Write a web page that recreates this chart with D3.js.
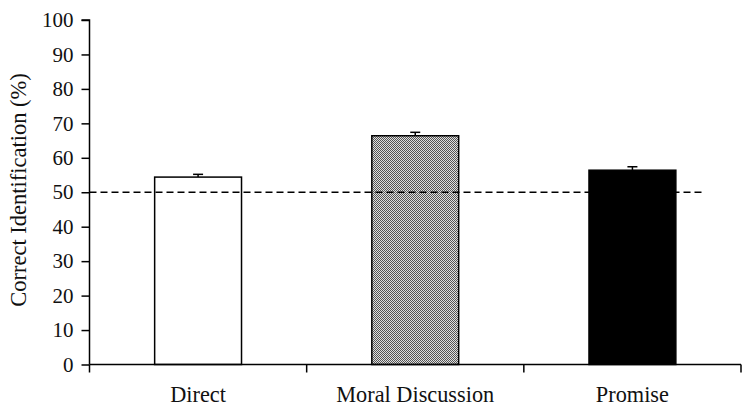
<!DOCTYPE html>
<html><head><meta charset="utf-8">
<script src="https://cdn.jsdelivr.net/npm/d3@7"></script>
<style>body{margin:0;background:#fff}svg{display:block}</style>
</head><body>
<svg id="c" width="750" height="412"></svg>
<script>
const categories = ["Direct", "Moral Discussion", "Promise"];
const values = [54.4, 66.4, 56.4];
const errors = [0.8, 1.0, 1.0];
const yTicks = [0,10,20,30,40,50,60,70,80,90,100];
const chanceLevel = 50;
const yLabel = "Correct Identification (%)";

(function(){
const svg = d3.select("#c");
const font = "'Liberation Serif','Times New Roman',serif";
const mLeft = 89.5, mRight = 741, mTop = 20, mBottom = 364.5;

const defs = svg.append("defs");
const pat = defs.append("pattern").attr("id","dots").attr("width",2).attr("height",2).attr("patternUnits","userSpaceOnUse");
pat.append("rect").attr("width",2).attr("height",2).attr("fill","#e0e0e0");
pat.append("rect").attr("width",1).attr("height",1).attr("fill","#555");
pat.append("rect").attr("x",1).attr("y",1).attr("width",1).attr("height",1).attr("fill","#555");

const x = d3.scaleBand().domain(categories).range([mLeft, mRight]).paddingInner(0).paddingOuter(0);
const y = d3.scaleLinear().domain([0,100]).range([mBottom, mTop]);
const fills = ["#fff", "url(#dots)", "#000"];
const barW = x.bandwidth() * 0.4;

svg.selectAll("rect.bar").data(categories).enter().append("rect")
  .attr("class","bar")
  .attr("x", d => x(d) + x.bandwidth()/2 - barW/2)
  .attr("y", (d,i) => y(values[i]))
  .attr("width", barW)
  .attr("height", (d,i) => y(0) - y(values[i]))
  .attr("fill", (d,i) => fills[i])
  .attr("stroke", "#000").attr("stroke-width", 1.5);

categories.forEach((c,i) => {
  const cx = x(c) + x.bandwidth()/2;
  svg.append("line").attr("x1",cx).attr("x2",cx).attr("y1",y(values[i])).attr("y2",y(values[i]+errors[i]))
    .attr("stroke","#000").attr("stroke-width",1.5);
  svg.append("line").attr("x1",cx-5).attr("x2",cx+5).attr("y1",y(values[i]+errors[i])).attr("y2",y(values[i]+errors[i]))
    .attr("stroke","#000").attr("stroke-width",1.5);
});

svg.append("line").attr("x1", mLeft).attr("x2", 704).attr("y1", y(chanceLevel)).attr("y2", y(chanceLevel))
  .attr("stroke","#000").attr("stroke-width",1.3).attr("stroke-dasharray","7,4");

const ya = svg.append("g").attr("transform",`translate(${mLeft},0)`)
  .call(d3.axisLeft(y).tickValues(yTicks).tickSize(8).tickPadding(8));
ya.attr("font-family", font).attr("font-size", 21);
ya.select(".domain").attr("stroke","#000").attr("stroke-width",1.5).attr("d",`M-8,${y(100)}H0V${y(0)}`);
ya.selectAll(".tick line").attr("stroke","#000").attr("stroke-width",1.5);
ya.selectAll(".tick text").attr("font-family",font).attr("font-size",21).attr("fill","#111");

const xa = svg.append("g").attr("transform",`translate(0,${mBottom})`);
xa.append("line").attr("x1",mLeft).attr("x2",mRight).attr("y1",0).attr("y2",0).attr("stroke","#000").attr("stroke-width",1.5);
const bounds = categories.map(c => x(c)).concat([mRight]);
xa.selectAll("line.t").data(bounds).enter().append("line").attr("class","t")
  .attr("x1",d=>d).attr("x2",d=>d).attr("y1",0).attr("y2",8).attr("stroke","#000").attr("stroke-width",1.5);
xa.selectAll("text").data(categories).enter().append("text")
  .attr("x", d => x(d) + x.bandwidth()/2).attr("y", 37)
  .attr("text-anchor","middle").attr("font-family",font).attr("font-size",22.3).attr("fill","#111")
  .text(d => d);

svg.append("text").attr("transform",`translate(26,190) rotate(-90)`)
  .attr("text-anchor","middle").attr("font-family",font).attr("font-size",22.5).attr("fill","#111")
  .text(yLabel);
})();
</script>
</body></html>
